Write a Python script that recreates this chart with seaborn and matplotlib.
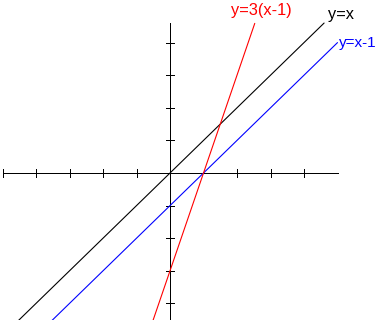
import numpy as np
import pandas as pd
import matplotlib
matplotlib.use("Agg")
import matplotlib.pyplot as plt
import seaborn as sns

# ---- data ----
black_x = [-5.0, 4.6]
black_y = [-5.0, 4.6]
blue_x = [-4.0, 5.0]
blue_y = [-5.0, 4.0]
red_x = [-0.6, 2.53]
red_y = [-4.8, 4.59]
labels = ["y=x", "y=x-1", "y=3(x-1)"]
label_x = [4.72, 5.04, 1.82]
label_y = [4.72, 3.87, 4.85]
label_size = [11.8, 11.0, 11.8]
xticks = [-5, -4, -3, -2, -1, 2, 3, 4]
yticks = [-4, -3, -2, -1, 1, 2, 3, 4]
colors = ["#000000", "#0000ff", "#ff0000"]

sns.set_style("white")
plt.rcParams["font.family"] = ["Liberation Sans", "DejaVu Sans"]

fig = plt.figure(figsize=(3.78, 3.20), dpi=100)
ax = fig.add_axes([0, 0, 1, 1])
ax.set_xlim(-5.075, 6.209)
ax.set_ylim(-4.509, 5.307)
ax.axis("off")

LW = 0.62
# axes
ax.hlines(0, -5.0, 5.0, color="black", lw=LW, antialiased=False)
ax.vlines(0, -4.6, 4.6, color="black", lw=LW, antialiased=False)
ax.vlines(xticks, -0.12, 0.12, color="black", lw=LW, antialiased=False)
ax.hlines(yticks, -0.12, 0.12, color="black", lw=LW, antialiased=False)

df = pd.concat([
    pd.DataFrame({"x": black_x, "y": black_y, "s": labels[0]}),
    pd.DataFrame({"x": blue_x, "y": blue_y, "s": labels[1]}),
    pd.DataFrame({"x": red_x, "y": red_y, "s": labels[2]}),
])
sns.lineplot(data=df, x="x", y="y", hue="s", palette=dict(zip(labels, colors)),
             sort=False, estimator=None, legend=False, lw=0.8, ax=ax)

for t, x, y, c, s in zip(labels, label_x, label_y, colors, label_size):
    ax.text(x, y, t, color=c, fontsize=s, ha="left", va="baseline")

fig.savefig("out.png", dpi=100, facecolor="white")
